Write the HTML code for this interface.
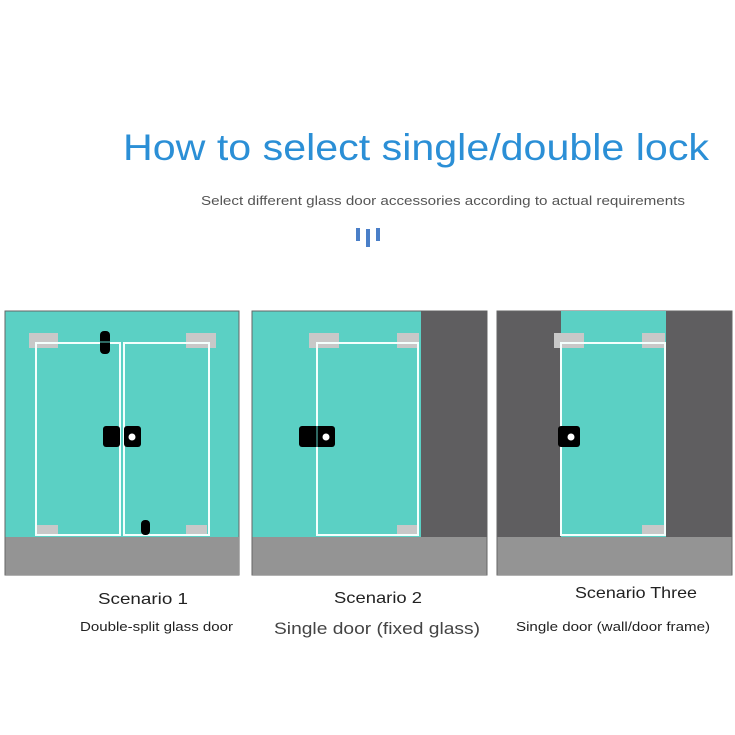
<!DOCTYPE html>
<html><head><meta charset="utf-8"><style>
html,body{margin:0;padding:0;background:#fff;}
svg{display:block;}
text{font-family:"Liberation Sans",Arial,sans-serif;}
</style></head><body>
<svg width="735" height="735" viewBox="0 0 735 735" xmlns="http://www.w3.org/2000/svg">
<rect width="735" height="735" fill="#fff"/>
<text x="123" y="160" font-size="37" fill="#2b8fd6" textLength="586" lengthAdjust="spacingAndGlyphs">How to select single/double lock</text>
<text x="201" y="205" font-size="13" fill="#555" textLength="484" lengthAdjust="spacingAndGlyphs">Select different glass door accessories according to actual requirements</text>
<rect x="356" y="228" width="4" height="13" fill="#4a7fc8"/>
<rect x="366" y="229" width="4" height="18" fill="#4a7fc8"/>
<rect x="376" y="228" width="4" height="13" fill="#4a7fc8"/>

<!-- Panel 1 -->
<rect x="5" y="311" width="234" height="264" fill="#5bd0c4" stroke="#666" stroke-width="1"/>
<rect x="5.5" y="537" width="233.5" height="38" fill="#949494"/>
<rect x="29" y="333" width="29" height="15" fill="#c8c8c8"/>
<rect x="186" y="333" width="30" height="15" fill="#c8c8c8"/>
<rect x="37" y="525" width="21" height="10" fill="#c8c8c8"/>
<rect x="186" y="525" width="21" height="10" fill="#c8c8c8"/>
<g fill="none" stroke="#f4fffd" stroke-width="2">
<rect x="36" y="343" width="84" height="192"/>
<rect x="124" y="343" width="85" height="192"/>
</g>
<rect x="100" y="331" width="10" height="23" rx="4" fill="#000"/>
<line x1="100" y1="342" x2="110" y2="342" stroke="#5bd0c4" stroke-width="1"/>
<rect x="103" y="426" width="17" height="21" rx="3" fill="#000"/>
<rect x="124" y="426" width="17" height="21" rx="3" fill="#000"/>
<circle cx="132" cy="437" r="3.5" fill="#fff"/>
<rect x="141" y="520" width="9" height="15" rx="4" fill="#000"/>

<!-- Panel 2 -->
<rect x="252" y="311" width="235" height="264" fill="#5bd0c4" stroke="#666" stroke-width="1"/>
<rect x="421" y="311" width="66" height="226" fill="#5f5e60"/>
<rect x="252.5" y="537" width="234" height="38" fill="#949494"/>
<rect x="309" y="333" width="30" height="15" fill="#c8c8c8"/>
<rect x="397" y="333" width="22" height="15" fill="#c8c8c8"/>
<rect x="397" y="525" width="21" height="10" fill="#c8c8c8"/>
<rect x="317" y="343" width="101" height="192" fill="none" stroke="#f4fffd" stroke-width="2"/>
<rect x="299" y="426" width="36" height="21" rx="3" fill="#000"/>
<line x1="317" y1="426" x2="317" y2="447" stroke="#5bd0c4" stroke-width="1"/>
<circle cx="326" cy="437" r="3.5" fill="#fff"/>

<!-- Panel 3 -->
<rect x="497" y="311" width="235" height="264" fill="#5f5e60" stroke="#666" stroke-width="1"/>
<rect x="561" y="311" width="105" height="226" fill="#5bd0c4"/>
<rect x="497.5" y="537" width="234" height="38" fill="#949494"/>
<rect x="554" y="333" width="30" height="15" fill="#c8c8c8"/>
<rect x="642" y="333" width="23" height="15" fill="#c8c8c8"/>
<rect x="642" y="525" width="22" height="10" fill="#c8c8c8"/>
<rect x="561" y="343" width="104" height="192" fill="none" stroke="#f4fffd" stroke-width="2"/>
<rect x="558" y="426" width="22" height="21" rx="3" fill="#000"/>
<circle cx="571" cy="437" r="3.5" fill="#fff"/>

<!-- Labels -->
<text x="98" y="604" font-size="16" fill="#222" textLength="90" lengthAdjust="spacingAndGlyphs">Scenario 1</text>
<text x="80" y="631" font-size="13" fill="#222" textLength="153" lengthAdjust="spacingAndGlyphs">Double-split glass door</text>
<text x="334" y="603" font-size="16" fill="#222" textLength="88" lengthAdjust="spacingAndGlyphs">Scenario 2</text>
<text x="274" y="634" font-size="17" fill="#444" textLength="206" lengthAdjust="spacingAndGlyphs">Single door (fixed glass)</text>
<text x="575" y="598" font-size="16" fill="#222" textLength="122" lengthAdjust="spacingAndGlyphs">Scenario Three</text>
<text x="516" y="631" font-size="13" fill="#222" textLength="194" lengthAdjust="spacingAndGlyphs">Single door (wall/door frame)</text>
</svg>
</body></html>
